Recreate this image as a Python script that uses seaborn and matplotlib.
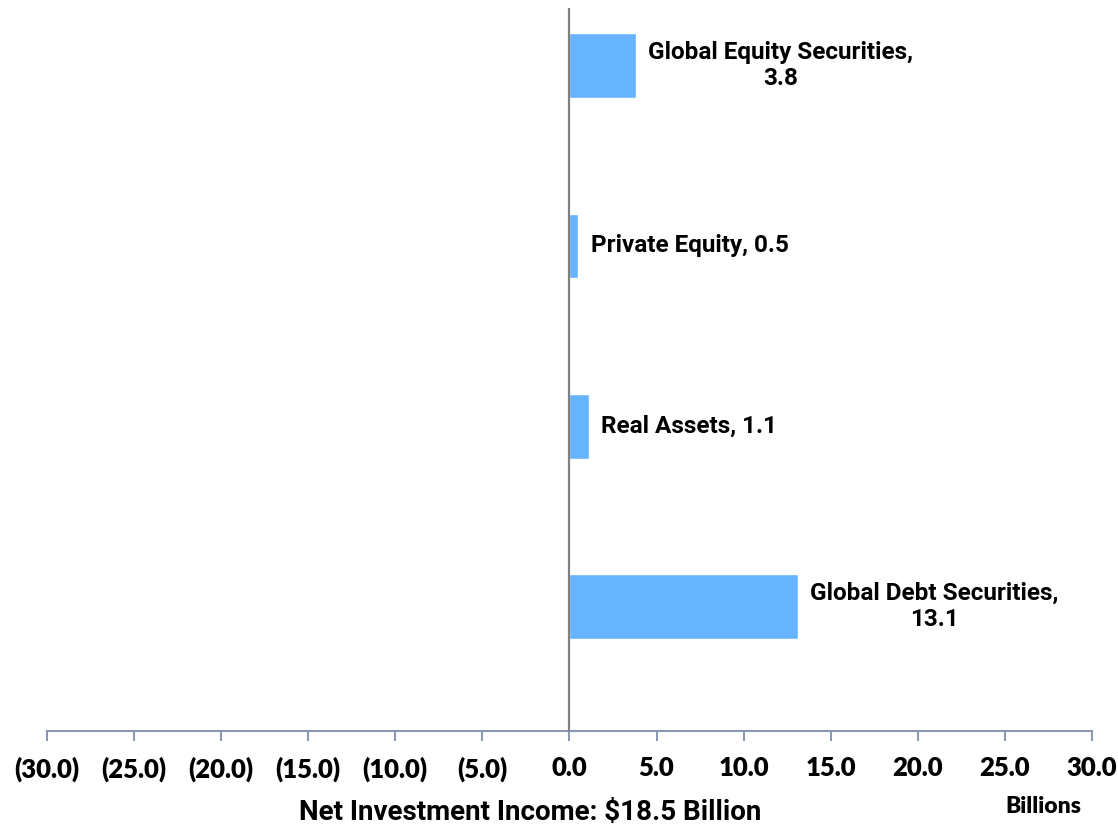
import matplotlib.pyplot as plt
import matplotlib.ticker as mticker
import seaborn as sns
import pandas as pd

categories = ['Global Equity Securities', 'Private Equity', 'Real Assets', 'Global Debt Securities']
values = [3.8, 0.5, 1.1, 13.1]
label_text = ['Global Equity Securities,\n3.8', 'Private Equity, 0.5', 'Real Assets, 1.1',
              'Global Debt Securities,\n13.1']
ticks = [-30, -25, -20, -15, -10, -5, 0, 5, 10, 15, 20, 25, 30]

sns.set_style('white')
narrow = ['Roboto', 'DejaVu Sans']
tickfont = ['Lato', 'DejaVu Sans']

df = pd.DataFrame({'cat': categories, 'val': values})

fig = plt.figure(figsize=(11.18, 8.31), dpi=100)
ax = fig.add_axes([0.042, 0.1203, 0.9347, 0.8701])

sns.barplot(data=df, x='val', y='cat', orient='h', color='#66b3ff', saturation=1,
            width=0.36, ax=ax)

ax.set_xlim(-30, 30)
ax.set_ylim(3.69, -0.32)
ax.axvline(0, color='#808080', lw=1.6, zorder=5)

# 막대 옆 라벨
for i, (v, t) in enumerate(zip(values, label_text)):
    ax.annotate(t, xy=(v, i), xytext=(9, 0), textcoords='offset points',
                ha='left', va='center', multialignment='center', linespacing=1.2,
                fontsize=17.5, fontweight='bold', family=narrow, color='black')

for s in ['top', 'right', 'left']:
    ax.spines[s].set_visible(False)
ax.spines['bottom'].set_color('#8a98b4')
ax.spines['bottom'].set_linewidth(1.5)

ax.set_xticks(ticks)
ax.xaxis.set_major_formatter(mticker.FuncFormatter(
    lambda x, p: f'({abs(x):.1f})' if x < 0 else f'{x:.1f}'))
ax.tick_params(axis='x', bottom=True, direction='out', length=7, width=1.5,
               color='#8a98b4', pad=11, labelsize=18.5, labelcolor='black')
for lab in ax.get_xticklabels():
    lab.set_fontweight('heavy')
    lab.set_family(tickfont)
ax.set_yticks([])
ax.set_xlabel('')
ax.set_ylabel('')

fig.text(0.474, 0.006, 'Net Investment Income: $18.5 Billion', ha='center', va='bottom',
         fontsize=20, fontweight='bold', family=narrow, color='black')
fig.text(0.933, 0.017, 'Billions', ha='center', va='bottom',
         fontsize=16.5, fontweight='heavy', family=tickfont, color='black')

fig.savefig('out.png', dpi=100)
